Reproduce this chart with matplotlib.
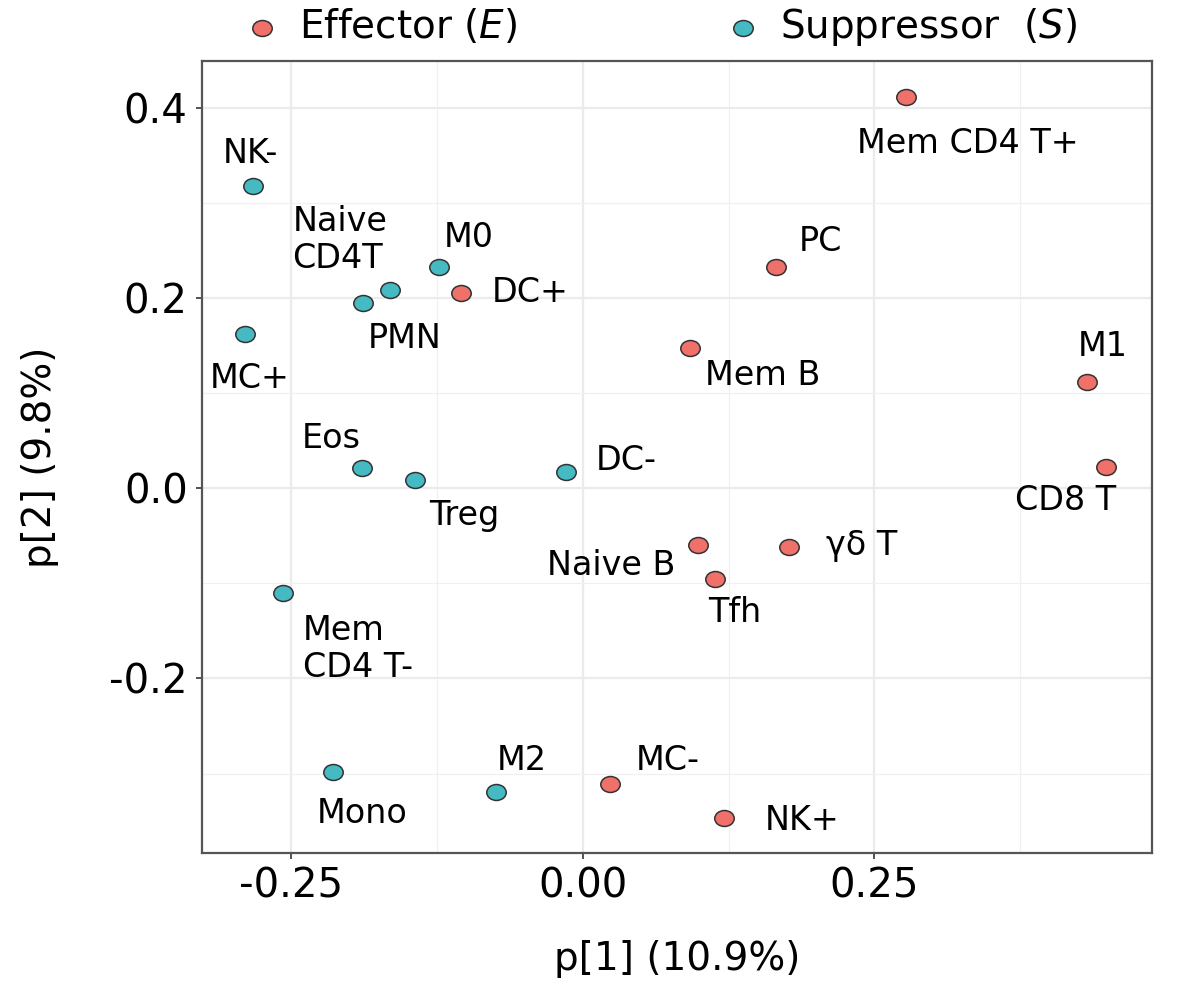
import matplotlib
matplotlib.use('Agg')
import matplotlib.pyplot as plt
import numpy as np
from matplotlib.path import Path
from matplotlib.ticker import MultipleLocator

plt.rcParams['font.family'] = ['DejaVu Sans']
plt.rcParams['mathtext.fontset'] = 'dejavusans'

# effector cells (red)
effector_names = ['Mem CD4 T+', 'PC', 'DC+', 'Mem B', 'M1', 'CD8 T',
                  'Naive B', 'γδ T', 'Tfh', 'MC-', 'NK+']
effector_p1 = [0.277, 0.166, -0.104, 0.092, 0.4325, 0.4485,
               0.099, 0.177, 0.113, 0.023, 0.121]
effector_p2 = [0.412, 0.233, 0.206, 0.148, 0.112, 0.023,
               -0.060, -0.062, -0.095, -0.311, -0.347]

# suppressor cells (teal)
suppressor_names = ['NK-', 'Naive\nCD4T', 'M0', 'PMN', 'MC+', 'Eos',
                    'Treg', 'DC-', 'Mem\nCD4 T-', 'Mono', 'M2']
suppressor_p1 = [-0.283, -0.165, -0.123, -0.188, -0.290, -0.189,
                 -0.144, -0.014, -0.257, -0.214, -0.074]
suppressor_p2 = [0.318, 0.209, 0.233, 0.195, 0.162, 0.022,
                 0.009, 0.017, -0.110, -0.298, -0.319]

# label placement (pixel offsets from the point, ha)
effector_offsets = [(62, -47, 'center'), (44, 25, 'center'), (69, 0, 'center'),
                    (73, -28, 'center'), (15, 35, 'center'), (-40, -34, 'center'),
                    (-87, -20, 'center'), (72, 2, 'center'), (20, -34, 'center'),
                    (58, 23, 'center'), (78, -2, 'center')]
suppressor_offsets = [(-2, 33, 'center'), (-98, 50, 'left'), (29, 29, 'center'),
                      (41, -35, 'center'), (5, -44, 'center'), (-31, 29, 'center'),
                      (49, -36, 'center'), (60, 12, 'center'), (20, -56, 'left'),
                      (29, -42, 'center'), (25, 31, 'center')]

red = '#F0706A'
teal = '#45BAC3'

# slightly wide ellipse marker
circ = Path.unit_circle()
ellipse = Path(circ.vertices * np.array([1.22, 1.0]), circ.codes)

fig = plt.figure(figsize=(12, 9.96), dpi=100)
ax = fig.add_axes([0.168, 0.1436, 0.792, 0.7952])

ax.scatter(effector_p1, effector_p2, s=196, marker=ellipse, c=red,
           edgecolors='#333333', linewidths=1.1, zorder=3,
           label='Effector ($\\it{E}$)')
ax.scatter(suppressor_p1, suppressor_p2, s=196, marker=ellipse, c=teal,
           edgecolors='#333333', linewidths=1.1, zorder=3,
           label='Suppressor  ($\\it{S}$)')

for names, xs, ys, offs in [(effector_names, effector_p1, effector_p2, effector_offsets),
                            (suppressor_names, suppressor_p1, suppressor_p2, suppressor_offsets)]:
    for name, x, y, (dx, dy, ha) in zip(names, xs, ys, offs):
        ax.annotate(name, (x, y), xytext=(dx, dy), textcoords='offset pixels',
                    ha=ha, va='center', fontsize=24, color='black',
                    multialignment='left', linespacing=1.15)

ax.set_xlim(-0.3268, 0.488)
ax.set_ylim(-0.3836, 0.4498)
ax.xaxis.set_major_locator(MultipleLocator(0.25))
ax.xaxis.set_minor_locator(MultipleLocator(0.125))
ax.yaxis.set_major_locator(MultipleLocator(0.2))
ax.yaxis.set_minor_locator(MultipleLocator(0.1))
ax.set_xticks([-0.25, 0.0, 0.25])
ax.set_xticklabels(['-0.25', '0.00', '0.25'])
ax.set_yticks([-0.2, 0.0, 0.2, 0.4])
ax.set_yticklabels(['-0.2', '0.0', '0.2', '0.4'])

ax.grid(True, which='major', color='#EBEBEB', linewidth=1.6, zorder=0)
ax.grid(True, which='minor', color='#F0F0F0', linewidth=0.9, zorder=0)
ax.set_axisbelow(True)
ax.tick_params(which='major', length=4, width=1.3, color='#444444',
               labelsize=29, pad=6, labelcolor='black')
ax.tick_params(which='minor', length=0)
for sp in ax.spines.values():
    sp.set_color('#555555')
    sp.set_linewidth(1.6)

ax.set_xlabel('p[1] (10.9%)', fontsize=28, labelpad=24)
ax.set_ylabel('p[2] (9.8%)', fontsize=28, labelpad=36)

fig.legend(*ax.get_legend_handles_labels(), loc='center',
           bbox_to_anchor=(0.550, 0.973), ncol=2, frameon=False,
           fontsize=28, handlelength=1.0, handletextpad=0.45,
           columnspacing=5.3, borderpad=0.1)

fig.savefig('out.png', dpi=100)
